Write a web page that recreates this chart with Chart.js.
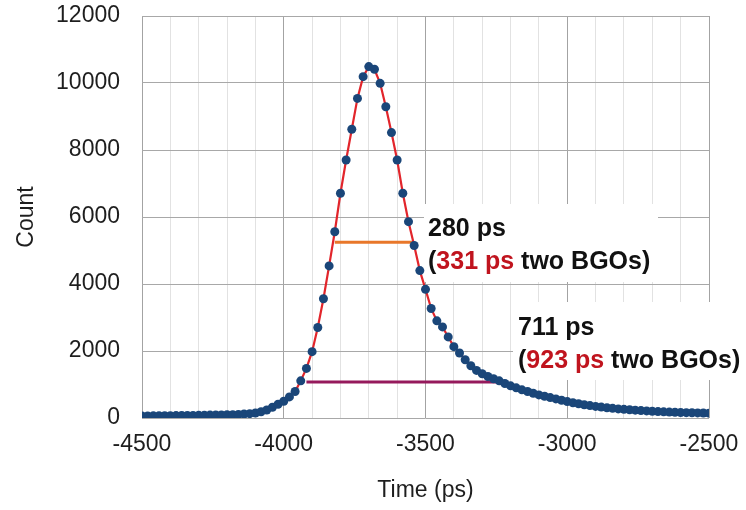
<!DOCTYPE html>
<html>
<head>
<meta charset="utf-8">
<script src="https://cdn.jsdelivr.net/npm/chart.js@4.4.1/dist/chart.umd.min.js"></script>
<style>
  html, body { margin: 0; padding: 0; background: #fff; }
</style>
</head>
<body>
<canvas id="chart" width="746" height="510"></canvas>
<script>
// time bins (ps)
const times = [
  -4500, -4480, -4460, -4440, -4420, -4400, -4380, -4360, -4340, -4320,
  -4300, -4280, -4260, -4240, -4220, -4200, -4180, -4160, -4140, -4120,
  -4100, -4080, -4060, -4040, -4020, -4000, -3980, -3960, -3940, -3920,
  -3900, -3880, -3860, -3840, -3820, -3800, -3780, -3760, -3740, -3720,
  -3700, -3680, -3660, -3640, -3620, -3600, -3580, -3560, -3540, -3520,
  -3500, -3480, -3460, -3440, -3420, -3400, -3380, -3360, -3340, -3320,
  -3300, -3280, -3260, -3240, -3220, -3200, -3180, -3160, -3140, -3120,
  -3100, -3080, -3060, -3040, -3020, -3000, -2980, -2960, -2940, -2920,
  -2900, -2880, -2860, -2840, -2820, -2800, -2780, -2760, -2740, -2720,
  -2700, -2680, -2660, -2640, -2620, -2600, -2580, -2560, -2540, -2520,
  -2500
];
const counts = [
  60, 62, 64, 66, 68, 70, 72, 74, 76, 78,
  80, 83, 86, 89, 92, 96, 100, 108, 118, 130,
  150, 185, 240, 320, 410, 500, 630, 790, 1110, 1480,
  1980, 2700, 3560, 4540, 5560, 6710, 7700, 8620, 9540, 10190,
  10490, 10410, 9990, 9290, 8520, 7700, 6710, 5860, 5150, 4400,
  3840, 3270, 2900, 2720, 2420, 2130, 1940, 1740, 1560, 1420,
  1320, 1240, 1170, 1110, 1030, 960, 900, 840, 790, 740,
  690, 650, 610, 570, 530, 490, 455, 425, 395, 370,
  345, 325, 305, 288, 272, 258, 246, 234, 222, 212,
  202, 192, 184, 176, 170, 165, 160, 156, 152, 148,
  145
];
const xLabels = [-4500, -4000, -3500, -3000, -2500];

// FWHM markers: [from, to, height]
const fwhmNarrow = [-3820, -3540, 5250];
const fwhmWide = [-3920, -3240, 1075];

const FONT = '"Liberation Sans", Arial, Helvetica, sans-serif';

const annotations = {
  id: 'annotations',
  beforeDatasetsDraw(chart) {
    const { ctx, scales: { x, y } } = chart;
    ctx.save();
    // white label boxes hide the grid behind the text
    ctx.fillStyle = '#ffffff';
    ctx.fillRect(424, 204, 234, 78);
    ctx.fillRect(513, 302, 233, 78);

    ctx.lineWidth = 3;
    ctx.strokeStyle = '#e8772a';
    ctx.beginPath();
    ctx.moveTo(x.getPixelForValue(fwhmNarrow[0]), y.getPixelForValue(fwhmNarrow[2]));
    ctx.lineTo(x.getPixelForValue(fwhmNarrow[1]), y.getPixelForValue(fwhmNarrow[2]));
    ctx.stroke();

    ctx.strokeStyle = '#951a5c';
    ctx.beginPath();
    ctx.moveTo(x.getPixelForValue(fwhmWide[0]), y.getPixelForValue(fwhmWide[2]));
    ctx.lineTo(x.getPixelForValue(fwhmWide[1]), y.getPixelForValue(fwhmWide[2]));
    ctx.stroke();
    ctx.restore();
  },
  afterDatasetsDraw(chart) {
    const ctx = chart.ctx;
    const drawParts = (parts, px, py) => {
      let cx = px;
      parts.forEach(([text, color]) => {
        ctx.fillStyle = color;
        ctx.fillText(text, cx, py);
        cx += ctx.measureText(text).width;
      });
    };
    ctx.save();
    ctx.font = 'bold 25px ' + FONT;
    ctx.textBaseline = 'middle';
    ctx.textAlign = 'left';
    drawParts([['280 ps', '#111']], 428, 229);
    drawParts([['(', '#111'], ['331 ps', '#c0141e'], [' two BGOs)', '#111']], 428, 262);
    drawParts([['711 ps', '#111']], 518, 328);
    drawParts([['(', '#111'], ['923 ps', '#c0141e'], [' two BGOs)', '#111']], 518, 361);
    ctx.restore();
  }
};

new Chart(document.getElementById('chart'), {
  type: 'line',
  data: {
    datasets: [{
      data: times.map((t, i) => ({ x: t, y: counts[i] })),
      borderColor: '#e2252b',
      borderWidth: 2.2,
      pointRadius: 4.5,
      pointBackgroundColor: '#1a4679',
      pointBorderWidth: 0,
      tension: 0,
    }],
  },
  options: {
    responsive: false,
    animation: false,
    devicePixelRatio: 1,
    layout: { padding: { top: 16, right: 37, left: 0, bottom: 0 } },
    plugins: { legend: { display: false }, tooltip: { enabled: false } },
    scales: {
      x: {
        type: 'linear',
        min: -4500,
        max: -2500,
        afterFit: (scale) => {
          scale.height = 92;
          scale.paddingLeft = 0;
          scale.paddingRight = 0;
        },
        border: { display: false },
        grid: {
          drawTicks: false,
          color: (c) => (c.tick && c.tick.value % 500 === 0 ? '#a3a3a3' : '#e2e2e2'),
        },
        ticks: {
          stepSize: 100,
          autoSkip: false,
          maxRotation: 0,
          padding: 13,
          color: '#1e1e1e',
          font: { family: FONT, size: 23 },
          callback: (v) => (xLabels.includes(v) ? String(v) : ''),
        },
        title: {
          display: true,
          text: 'Time (ps)',
          color: '#1e1e1e',
          font: { family: FONT, size: 23 },
          padding: { top: 0, bottom: 6 },
        },
      },
      y: {
        min: 0,
        max: 12000,
        afterFit: (scale) => {
          scale.width = 142;
          scale.paddingTop = 0;
          scale.paddingBottom = 0;
        },
        border: { display: false },
        grid: { drawTicks: false, color: '#a8a8a8' },
        ticks: {
          stepSize: 2000,
          padding: 22,
          color: '#1e1e1e',
          font: { family: FONT, size: 23 },
          callback: (v) => String(v),
        },
        title: {
          display: true,
          text: 'Count',
          color: '#1e1e1e',
          font: { family: FONT, size: 23 },
          padding: { top: 13, bottom: 0 },
        },
      },
    },
  },
  plugins: [annotations],
});
</script>
</body>
</html>
